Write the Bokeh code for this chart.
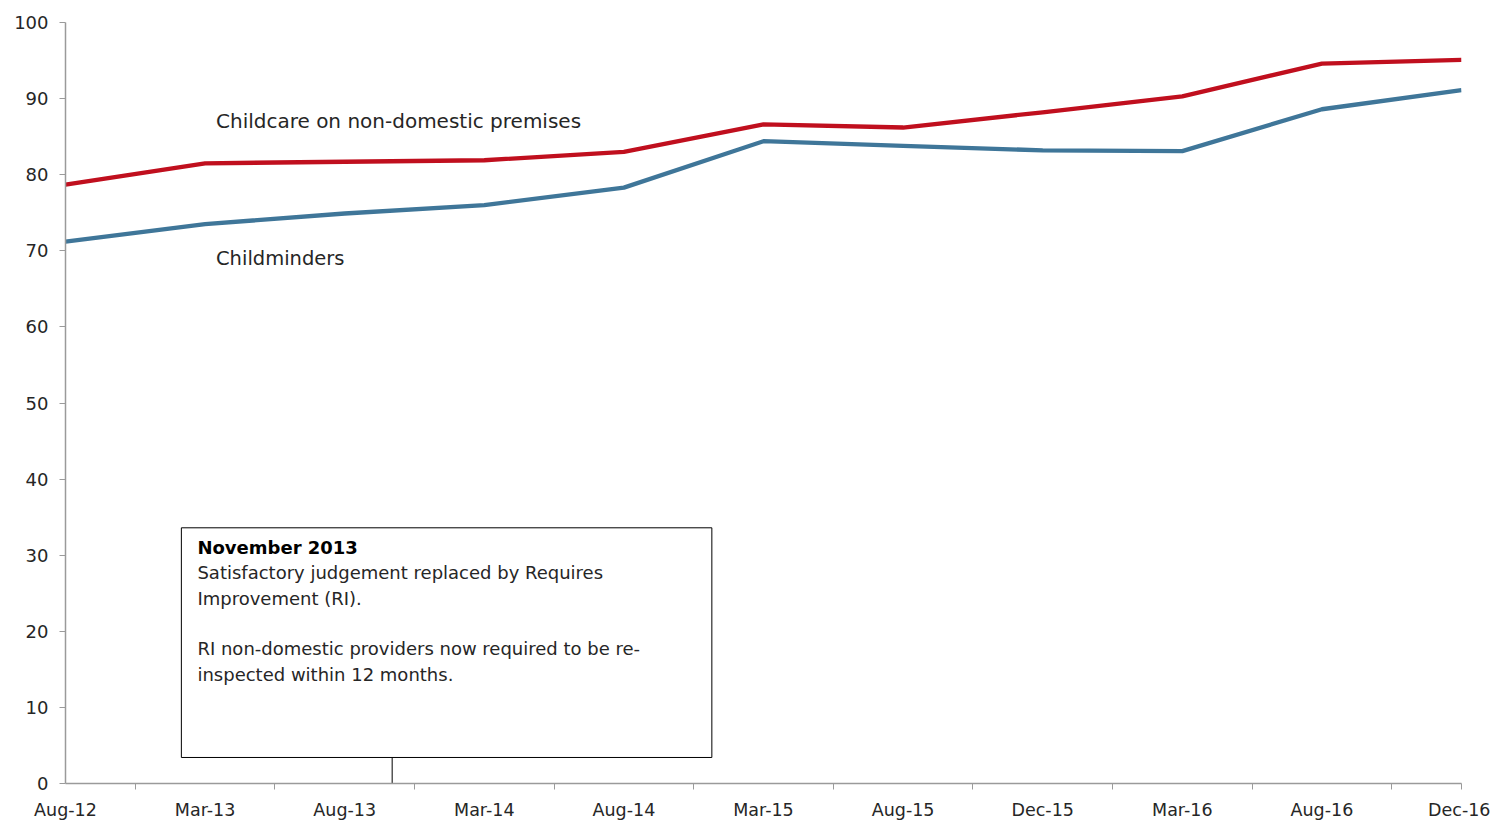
from bokeh.plotting import figure
from bokeh.models import Range1d, FixedTicker, Label, BoxAnnotation
from bokeh.embed import file_html
from bokeh.resources import INLINE

periods = ["Aug-12", "Mar-13", "Aug-13", "Mar-14", "Aug-14", "Mar-15",
           "Aug-15", "Dec-15", "Mar-16", "Aug-16", "Dec-16"]
childcare_non_domestic = [78.7, 81.5, 81.7, 81.9, 83.0, 86.6, 86.2, 88.2, 90.3, 94.6, 95.1]
childminders = [71.2, 73.5, 74.9, 76.0, 78.3, 84.4, 83.8, 83.2, 83.1, 88.6, 91.1]
y_ticks = list(range(0, 101, 10))

note_title = "November 2013"
note_lines = ["Satisfactory judgement replaced by Requires",
              "Improvement (RI).",
              "",
              "RI non-domestic providers now required to be re-",
              "inspected within 12 months."]
note_x = 2.34  # position of November 2013 between Aug-13 and Mar-14

FONT = "DejaVu Sans"
AXIS_GRAY = "#9a9a9a"
TEXT = "#262626"
RED = "#C00F1E"
BLUE = "#3F7699"

xs = list(range(len(periods)))

p = figure(width=1490, height=822, output_backend="svg", toolbar_location=None,
           x_range=Range1d(0, len(periods) - 1), y_range=Range1d(0, 100),
           min_border_left=65, min_border_right=29, min_border_top=22,
           min_border_bottom=39)
p.outline_line_color = None
p.xgrid.visible = False
p.ygrid.visible = False
p.background_fill_color = "white"
p.border_fill_color = "white"

p.line(xs, childcare_non_domestic, line_color=RED, line_width=4.3, line_join="round")
p.line(xs, childminders, line_color=BLUE, line_width=4.3, line_join="round")

# x axis: labels at categories, tick marks between them
xa = p.xaxis[0]
xa.ticker = FixedTicker(ticks=xs, minor_ticks=[i + 0.5 for i in xs[:-1]] + [xs[-1]])
xa.major_label_overrides = {i: lab for i, lab in zip(xs, periods)}
xa.major_tick_line_color = None
xa.minor_tick_line_color = AXIS_GRAY
xa.minor_tick_out = 6
xa.minor_tick_in = 0
xa.axis_line_color = AXIS_GRAY
xa.axis_line_width = 1.5
xa.major_label_text_font = FONT
xa.major_label_text_font_size = "17.5px"
xa.major_label_text_color = TEXT
xa.major_label_standoff = 10

ya = p.yaxis[0]
ya.ticker = FixedTicker(ticks=y_ticks, minor_ticks=[])
ya.major_tick_line_color = AXIS_GRAY
ya.major_tick_out = 6
ya.major_tick_in = 0
ya.minor_tick_line_color = None
ya.axis_line_color = AXIS_GRAY
ya.axis_line_width = 1.5
ya.major_label_text_font = FONT
ya.major_label_text_font_size = "18px"
ya.major_label_text_color = TEXT
ya.major_label_standoff = 11

# series labels
p.add_layout(Label(x=1.078, y=87.0, text="Childcare on non-domestic premises",
                   text_font=FONT, text_font_size="20px", text_color=TEXT,
                   text_baseline="middle", text_align="left"))
p.add_layout(Label(x=1.078, y=69.0, text="Childminders",
                   text_font=FONT, text_font_size="19.5px", text_color=TEXT,
                   text_baseline="middle", text_align="left"))

# annotation box with connector
p.segment(x0=[note_x], y0=[0], x1=[note_x], y1=[3.42], line_color="black", line_width=1)
p.add_layout(BoxAnnotation(left=0.83, right=4.63, bottom=3.42, top=33.6,
                           fill_color="white", fill_alpha=1.0,
                           line_color="black", line_alpha=1.0, line_width=1))
p.add_layout(Label(x=0.945, y=31.0, text=note_title, text_font=FONT,
                   text_font_size="18px", text_font_style="bold", text_color="black",
                   text_baseline="middle"))
for i, line in enumerate(note_lines):
    if line:
        p.add_layout(Label(x=0.945, y=31.0 - 3.33 * (i + 1), text=line, text_font=FONT,
                           text_font_size="18px", text_color=TEXT,
                           text_baseline="middle"))

open("out.html", "w").write(file_html(p, INLINE))
